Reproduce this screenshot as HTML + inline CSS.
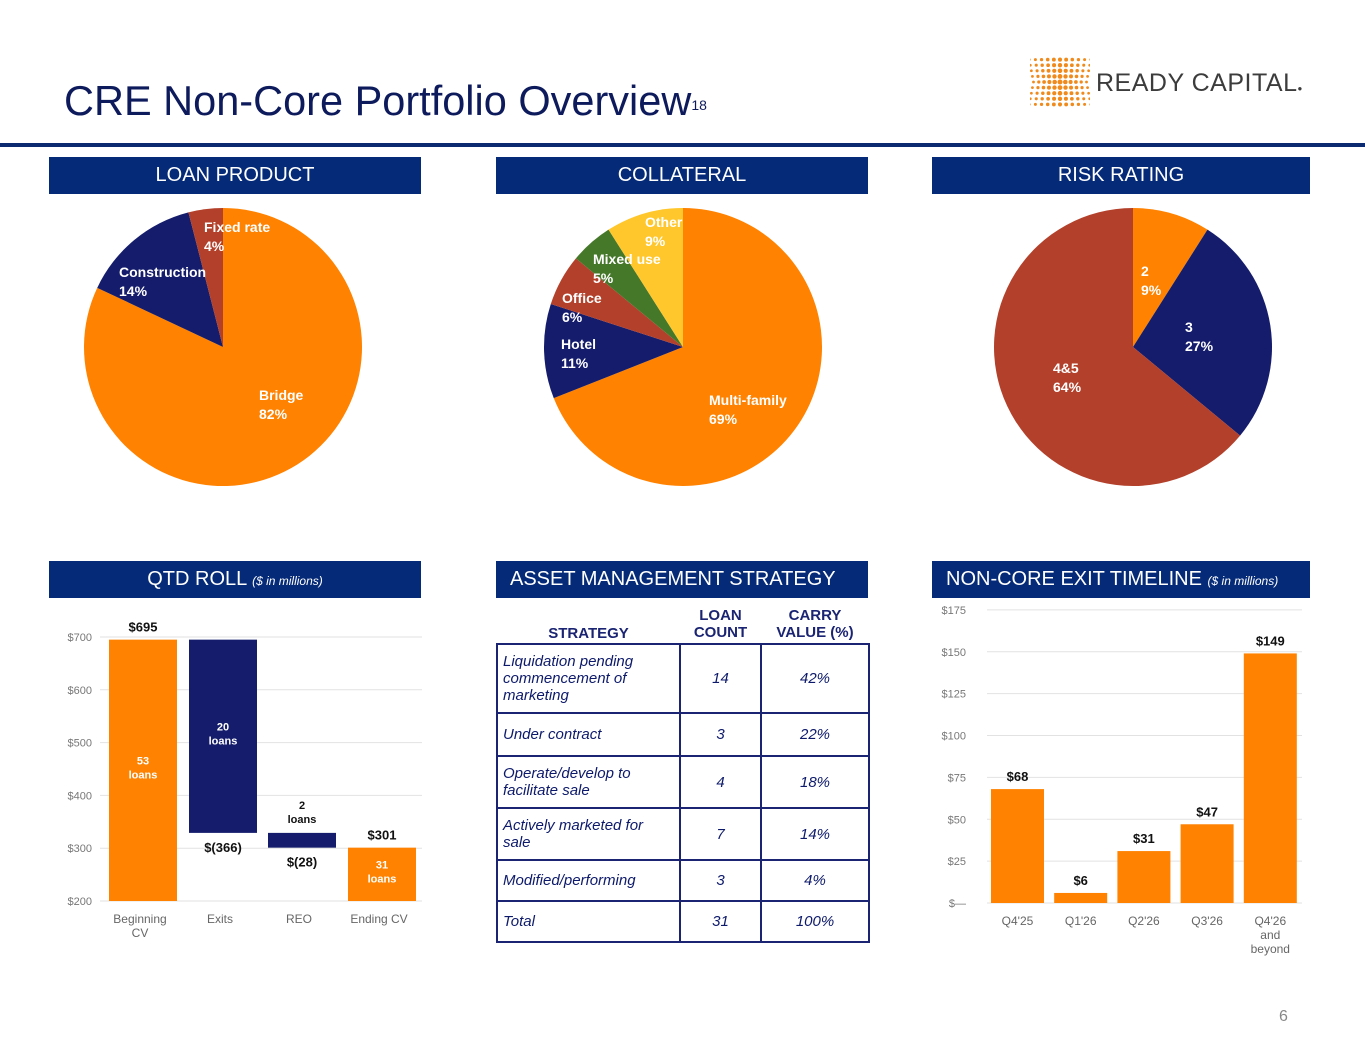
<!DOCTYPE html>
<html><head><meta charset="utf-8">
<style>
body{margin:0;width:1365px;height:1055px;background:#fff;font-family:"Liberation Sans",Arial,sans-serif;position:relative;overflow:hidden}
.abs{position:absolute}
.hdr{position:absolute;height:37px;background:#052a78;color:#fff;font-size:20px;line-height:37px;text-align:center}
.hdr i{font-size:12px}
table{border-collapse:collapse;color:#0d1a6b;font-size:15px;table-layout:fixed}
td{border:2px solid #1a2472;font-style:italic;padding:0 5px}
td.s{padding-right:14px}
td.c{text-align:center}
</style></head><body>
<div class="abs" style="left:64px;top:77px;font-size:41.5px;color:#0d1a5c">CRE Non-Core Portfolio Overview<span style="font-size:14px;vertical-align:top;position:relative;top:20px">18</span></div>
<div class="abs" style="left:1030px;top:56px;width:60px;height:52px">
<svg width="60" height="52" id="logo"></svg></div>
<div class="abs" style="left:1096px;top:69px;font-size:25px;color:#3c3c3c;letter-spacing:0.5px">READY CAPITAL<span style="font-size:8px">●</span></div>
<div class="abs" style="left:0;top:143px;width:1365px;height:4px;background:#0b2a6f"></div>

<div class="hdr" style="left:49px;top:157px;width:372px">LOAN PRODUCT</div>
<div class="hdr" style="left:496px;top:157px;width:372px">COLLATERAL</div>
<div class="hdr" style="left:932px;top:157px;width:378px">RISK RATING</div>
<div class="hdr" style="left:49px;top:561px;width:372px">QTD ROLL <i>($ in millions)</i></div>
<div class="hdr" style="left:496px;top:561px;width:372px;text-align:left;padding-left:14px;box-sizing:border-box">ASSET MANAGEMENT STRATEGY</div>
<div class="hdr" style="left:932px;top:561px;width:378px;text-align:left;padding-left:14px;box-sizing:border-box">NON-CORE EXIT TIMELINE <i>($ in millions)</i></div>

<svg class="abs" style="left:0;top:0" width="1365" height="1055" id="chart" font-family="Liberation Sans, Arial, sans-serif"></svg>

<table class="abs" style="left:496px;top:605px;width:372px">
<colgroup><col style="width:183px"><col style="width:81px"><col style="width:108px"></colgroup>
<tr style="height:39px;font-weight:bold;font-size:15px;color:#1a2472"><th style="vertical-align:bottom">STRATEGY</th><th>LOAN<br>COUNT</th><th>CARRY<br>VALUE (%)</th></tr>
<tr style="height:69px"><td class="s">Liquidation pending commencement of marketing</td><td class="c">14</td><td class="c">42%</td></tr>
<tr style="height:43px"><td class="s">Under contract</td><td class="c">3</td><td class="c">22%</td></tr>
<tr style="height:52px"><td class="s">Operate/develop to facilitate sale</td><td class="c">4</td><td class="c">18%</td></tr>
<tr style="height:52px"><td class="s">Actively marketed for sale</td><td class="c">7</td><td class="c">14%</td></tr>
<tr style="height:41px"><td class="s">Modified/performing</td><td class="c">3</td><td class="c">4%</td></tr>
<tr style="height:41px"><td class="s">Total</td><td class="c">31</td><td class="c">100%</td></tr>
</table>
<div class="abs" style="left:1279px;top:1008px;font-size:16px;color:#888">6</div>

<script>
const NS='http://www.w3.org/2000/svg';
const svg=document.getElementById('chart');
function mk(tag,attrs,parent){const e=document.createElementNS(NS,tag);for(const k in attrs)e.setAttribute(k,attrs[k]);(parent||svg).appendChild(e);return e;}
function txt(x,y,s,attrs){const t=mk('text',Object.assign({x:x,y:y},attrs));t.textContent=s;return t;}

const logo=document.getElementById('logo');
for(let i=0;i<11;i++)for(let j=0;j<9;j++){const dx=i-5,dy=j-4;const r=1.2+1.3*(1-Math.abs(dx)/6)*(0.6+0.4*(1-Math.abs(dy)/5));
const d=mk('circle',{cx:30+dx*5.3*(1+0.04*Math.abs(dy)),cy:26+dy*5.6,r:r,fill:'#f08a1c'},logo);

}

const loanLabels=['Bridge','Construction','Fixed rate'];
const loanValues=[82,14,4];
const collLabels=['Multi-family','Hotel','Office','Mixed use','Other'];
const collValues=[69,11,6,5,9];
const riskLabels=['2','3','4&5'];
const riskValues=[9,27,64];

const pieLabelPos={
 loan:[[259,400],[119,277],[204,232]],
 coll:[[709,405],[561,349],[562,303],[593,264],[645,227]],
 risk:[[1141,276],[1185,332],[1053,373]]
};
function pie(cx,cy,r,labels,values,colors,name,lpos){
 const tot=values.reduce((a,b)=>a+b,0);let a0=0;
 values.forEach((v,i)=>{
  const a1=a0+v/tot*2*Math.PI;
  const x0=cx+r*Math.sin(a0),y0=cy-r*Math.cos(a0),x1=cx+r*Math.sin(a1),y1=cy-r*Math.cos(a1);
  const p=mk('path',{d:`M${cx},${cy}L${x0},${y0}A${r},${r} 0 ${a1-a0>Math.PI?1:0} 1 ${x1},${y1}Z`,fill:colors[i]});
  
  
  a0=a1;});
 values.forEach((v,i)=>{
  const [lx,ly]=lpos[i];
  const t=txt(lx,ly,labels[i],{fill:'#fff','font-size':14,'font-weight':'bold'});
  
  
  const t2=txt(lx,ly+19,v+'%',{fill:'#fff','font-size':14,'font-weight':'bold'});
  
  });
}
const OR='#ff8200',NV='#141c6b',RD='#b3402a',GR='#46782a',YL='#ffc72c';
pie(223,347,139,loanLabels,loanValues,[OR,NV,RD],'loan-pie',pieLabelPos.loan);
pie(683,347,139,collLabels,collValues,[OR,NV,RD,GR,YL],'collateral-pie',pieLabelPos.coll);
pie(1133,347,139,riskLabels,riskValues,[OR,NV,RD],'risk-pie',pieLabelPos.risk);

const wfCats=['Beginning CV','Exits','REO','Ending CV'];
const wfDeltas=[695,-366,-28,301];
const wfLoans=['53','20','2','31'];
const wfTicks=[200,300,400,500,600,700];
const wy=v=>901-(v-200)*0.528;
const wfX=[109,189,268,348],wfW=68;
wfTicks.forEach(t=>{
 const l=mk('line',{x1:100,x2:422,y1:wy(t),y2:wy(t),stroke:'#e2e2e2','stroke-width':1});
 
 const s=txt(92,wy(t)+4,'$'+t,{fill:'#777','font-size':11,'text-anchor':'end'});
 });
let run=0;
wfDeltas.forEach((d,i)=>{
 let top,bot,col;
 if(i==0){top=d;bot=200;run=d;col=OR;}
 else if(i==wfDeltas.length-1){top=d;bot=200;col=OR;}
 else{top=run;bot=run+d;run=bot;col=NV;}
 const r=mk('rect',{x:wfX[i],y:wy(top),width:wfW,height:wy(bot)-wy(top),fill:col});
 
 
 const cx=wfX[i]+wfW/2;
 const lab=d<0?'$('+(-d)+')':'$'+d;
 let ly=d<0?wy(bot)+19:wy(top)-8;
 const vt=txt(cx,ly,lab,{fill:'#111','font-size':13,'font-weight':'bold','text-anchor':'middle'});
 
 const small=(wy(bot)-wy(top))<40;
 const ny=small?wy(top)-24:(wy(top)+wy(bot))/2-6;
 const nc=small?'#111':'#fff';
 const n1=txt(cx,ny,wfLoans[i],{fill:nc,'font-size':11,'font-weight':'bold','text-anchor':'middle'});
 
 const n2=txt(cx,ny+14,'loans',{fill:nc,'font-size':11,'font-weight':'bold','text-anchor':'middle'});
 
 wfCats[i].split(i==0?' ':'|').forEach((w,k)=>{
  const c=txt(cx-3,923+k*14,w,{fill:'#666','font-size':12,'text-anchor':'middle'});
  });
});

const exCats=["Q4'25","Q1'26","Q2'26","Q3'26","Q4'26|and|beyond"];
const exValues=[68,6,31,47,149];
const exTicks=[0,25,50,75,100,125,150,175];
const ey=v=>903-v*1.675;
const exX0=991,exStep=63.2,exW=53;
exTicks.forEach(t=>{
 const l=mk('line',{x1:987,x2:1302,y1:ey(t),y2:ey(t),stroke:'#e2e2e2'});
 
 const s=txt(966,ey(t)+4,t==0?'$—':'$'+t,{fill:'#777','font-size':11,'text-anchor':'end'});
 });
exValues.forEach((v,i)=>{
 const x=exX0+i*exStep;
 const r=mk('rect',{x:x,y:ey(v),width:exW,height:ey(0)-ey(v),fill:OR});
 
 const t=txt(x+exW/2,ey(v)-8,'$'+v,{fill:'#111','font-size':13,'font-weight':'bold','text-anchor':'middle'});
 
 exCats[i].split('|').forEach((w,k)=>{
  const c=txt(x+exW/2,925+k*14,w,{fill:'#666','font-size':12,'text-anchor':'middle'});
  });
});
</script>
</body></html>
